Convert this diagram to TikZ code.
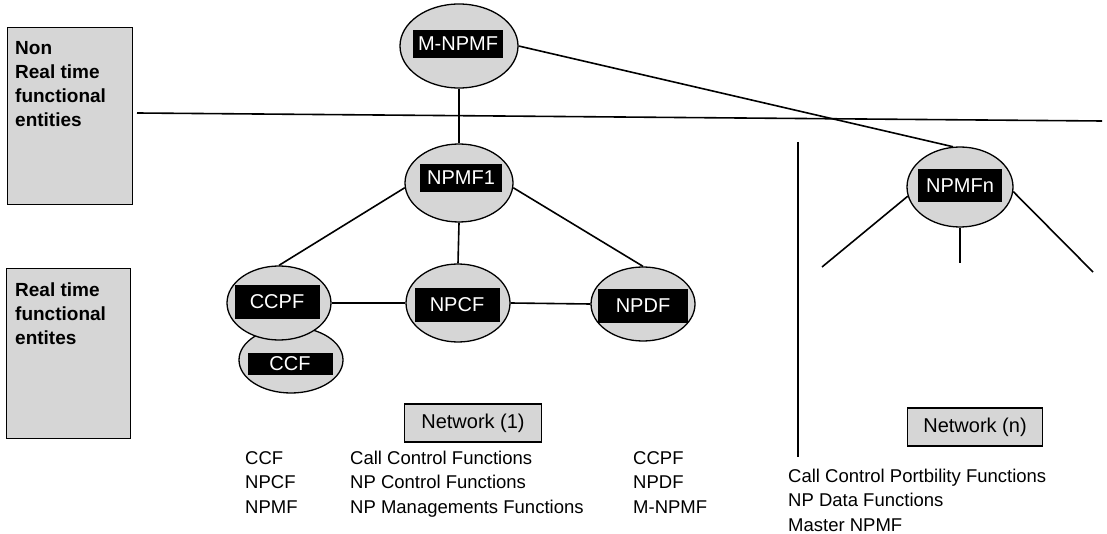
\documentclass[tikz,border=0pt]{standalone}
\usepackage{fontspec}
\setmainfont{Liberation Sans}
\usetikzlibrary{shapes.geometric}

\begin{document}
\begin{tikzpicture}[
    x=1pt, y=-1pt,
    ent/.style={ellipse, draw, line width=1.3pt, fill=black!16, inner sep=0pt},
    tagbox/.style={fill=black, text=white, inner sep=0pt,
                   font=\fontsize{20}{24}\selectfont},
    zone/.style={draw, line width=1.3pt, fill=black!16, anchor=north west},
    zonetext/.style={anchor=north west, align=left, inner sep=0pt,
                     font=\fontsize{19}{24}\selectfont\bfseries},
    netbox/.style={draw, line width=1.3pt, fill=black!16, minimum width=137pt,
                   minimum height=38pt, font=\fontsize{20}{24}\selectfont},
    note/.style={anchor=base west, align=left, inner sep=0pt,
                 font=\fontsize{18.5}{24.5}\selectfont},
    link/.style={line width=1.6pt},
]
\useasboundingbox (0,0) rectangle (1107,534);

% --- Layer boxes ---
\node[zone, minimum width=125pt, minimum height=177pt] (nonrt) at (7,27) {};
\node[zonetext] (nonrt-txt) at (15,41) {Non\\Real time\\functional\\entities};
\node[zone, minimum width=124pt, minimum height=170pt] (rt) at (6,268) {};
\node[zonetext] (rt-txt) at (15,283) {Real time\\functional\\entites};

% --- Divider lines ---
\coordinate (div-l) at (137,113);
\coordinate (div-r) at (1102,121);
\draw[link] (div-l) -- (div-r);
\coordinate (sep-t) at (798,142);
\coordinate (sep-b) at (798,457);
\draw[link] (sep-t) -- (sep-b);

% --- Master ---
\node[ent, minimum width=118pt, minimum height=84pt] (mnpmf) at (459,46) {};
\node[tagbox, minimum width=90pt, minimum height=28pt] (mnpmf-tag) at (458,44) {M-NPMF};

% --- Network (1) ---
\node[ent, minimum width=108pt, minimum height=78pt] (npmf1) at (459,183) {};
\node[tagbox, minimum width=82pt, minimum height=28pt] (npmf1-tag) at (461,178) {NPMF1};

\node[ent, minimum width=104pt, minimum height=66pt] (ccf) at (291,360) {};
\node[tagbox, minimum width=85pt, minimum height=22pt] (ccf-tag) at (290,364) {CCF};
\node[ent, minimum width=104pt, minimum height=74pt] (ccpf) at (279,303) {};
\node[tagbox, minimum width=85pt, minimum height=34pt] (ccpf-tag) at (277,302) {CCPF};

\node[ent, minimum width=104pt, minimum height=78pt] (npcf) at (458,303) {};
\node[tagbox, minimum width=85pt, minimum height=34pt] (npcf-tag) at (457,305) {NPCF};

\node[ent, minimum width=104pt, minimum height=74pt] (npdf) at (643,304) {};
\node[tagbox, minimum width=90pt, minimum height=33pt] (npdf-tag) at (643,306) {NPDF};

% --- Network (n) ---
\node[ent, minimum width=106pt, minimum height=80pt] (npmfn) at (960,187) {};
\node[tagbox, minimum width=84pt, minimum height=33pt] (npmfn-tag) at (960,186) {NPMFn};

\coordinate (stub-l) at (822,267);
\coordinate (stub-m) at (960,263);
\coordinate (stub-r) at (1093,272);

% --- Links ---
\draw[link] (mnpmf.south) -- (npmf1.north);
\draw[link] (mnpmf.east) -- (npmfn.100);
\draw[link] (npmf1.185) -- (ccpf.north);
\draw[link] (npmf1.south) -- (npcf.north);
\draw[link] (npmf1.355) -- (npdf.north);
\draw[link] (ccpf.east) -- (npcf.west);
\draw[link] (npcf.east) -- (npdf.west);
\draw[link] (npmfn.190) -- (stub-l);
\draw[link] (npmfn.south) -- (stub-m);
\draw[link] (npmfn.355) -- (stub-r);

% --- Network names ---
\node[netbox] (net1) at (473,423) {Network (1)};
\node[netbox, minimum width=135pt] (netn) at (975,427) {Network (n)};

% --- Legend (base = last line) ---
\node[note] (abbr) at (245,513) {CCF\\NPCF\\NPMF};
\node[note] (abbr-def) at (350,513) {Call Control Functions\\NP Control Functions\\NP Managements Functions};
\node[note] (abbr2) at (633,513) {CCPF\\NPDF\\M-NPMF};
\node[note] (abbr2-def) at (788,531) {Call Control Portbility Functions\\NP Data Functions\\Master NPMF};
\end{tikzpicture}
\end{document}
